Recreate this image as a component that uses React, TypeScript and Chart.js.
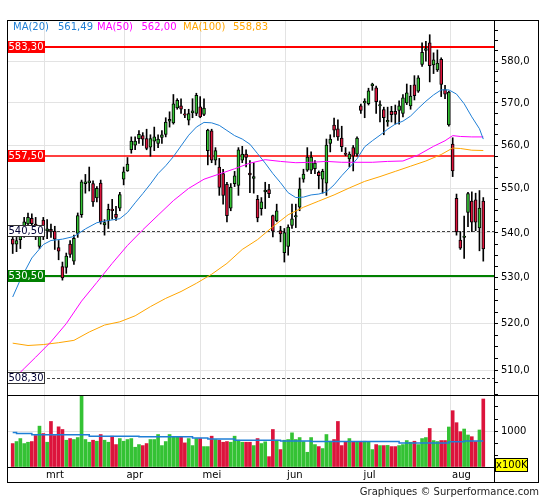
import React, { useEffect, useRef } from 'react';
import { Chart, registerables } from 'chart.js';

Chart.register(...registerables);

// ---------- data ----------
const openP = [
  538.6, 537.5, 538.5, 540.5, 542, 543.3, 542, 537, 542.9, 540.5,
  540.8, 540.4, 536.7, 532.5, 532.3, 537.5, 533.7, 539.9, 544.1, 551.2,
  551.4, 551.2, 547.9, 551.3, 541.8, 542.7, 545.4, 544.2, 545.6, 552.2,
  554.1, 559, 560.1, 561.6, 562.3, 561.6, 559.6, 561, 560.5, 561.9,
  562.6, 565.7, 565.3, 568.8, 569.3, 567.4, 565.9, 567.7, 567.5, 569.1,
  567.3, 558.8, 563.4, 556.6, 555, 553.5, 551, 545.6, 551.2, 550.8,
  556.6, 558, 553.6, 552.4, 547.6, 545.5, 549.3, 549.8, 543.9, 542.7,
  540.5, 535.6, 537, 541.7, 543.6, 545.8, 552.2, 554.3, 554.3, 554.6,
  553.8, 552.2, 551.3, 560.5, 564.8, 563.9, 561.7, 558.2, 556.9, 559.5,
  558, 569.3, 570, 569.8, 574.1, 573.6, 569.3, 568.4, 565.5, 568,
  568, 568.2, 567.5, 570, 569.3, 574.3, 572.8, 579.2, 582.6, 584.4,
  579.1, 577.9, 580.4, 573.2, 564.8, 560.3, 547.8, 538.4, 539, 544.6,
  547.2, 547.5, 541.1, 547.2,
];
const highP = [
  540, 539, 541.5, 543.5, 544.5, 544.3, 543.5, 541.5, 543.5, 543,
  542, 541.5, 538.3, 533.5, 535.5, 538.3, 539.5, 544.5, 552, 553.3,
  555, 551.8, 550.5, 552, 543, 546.5, 547.6, 546, 549.2, 555,
  557.2, 562, 562, 563.5, 563, 563.8, 562.5, 564.3, 562.5, 563.5,
  566.5, 567.9, 572, 571, 571, 568.5, 568.5, 571, 572.3, 571.5,
  571, 563.8, 563.8, 559.5, 557, 554.5, 551.5, 551.2, 554, 559.5,
  559.8, 559, 556.5, 556, 548.5, 548, 551.5, 551, 544, 546.5,
  541.5, 541, 541.8, 546.5, 546.5, 552.5, 554.5, 559.5, 558.5, 556.5,
  554.1, 554.5, 561.5, 562.5, 566.4, 566, 564.5, 559.5, 558.5, 560,
  562, 569.7, 571, 573.5, 574.7, 574, 570.5, 569, 569, 569.2,
  569.5, 570.5, 572, 574.5, 574.2, 576.5, 576.5, 584.4, 584.8, 586.4,
  582, 582.7, 580.8, 574.2, 572.8, 561.8, 548.8, 540.3, 543.8, 549.2,
  549.3, 549, 549.6, 548,
];
const lowP = [
  535.4, 535.8, 536.5, 539, 540, 541, 538.5, 536.5, 538.5, 538.7,
  539, 536.3, 534, 529.5, 531, 534.5, 533, 539, 543.5, 549,
  549.5, 546, 547, 542, 539.5, 541, 543.1, 542.8, 545, 550.9,
  554, 558.2, 559, 560.5, 560, 559, 557.5, 558.8, 559.5, 560.5,
  562, 564.3, 565, 568.5, 567.5, 566.5, 564.8, 566.5, 567, 566.5,
  567, 555.5, 556, 555.5, 548.5, 546.5, 542.5, 545, 550.5, 548.5,
  556, 555, 549.1, 549, 542.5, 544, 545.5, 548, 539.1, 542.5,
  538, 533.5, 535, 541, 541.2, 545, 551.5, 554, 553.5, 553.5,
  550, 549, 548.5, 558.5, 562, 561.2, 558.6, 557.6, 555, 554.1,
  557.5, 567.5, 566.5, 569.5, 573, 567.5, 565.5, 562.5, 564.5, 565.5,
  565, 565, 566.7, 569.6, 568.5, 570.7, 572.5, 578.7, 580, 575,
  577, 577.5, 571.5, 571, 564.5, 552.8, 539.5, 536.3, 534.3, 541.4,
  540.3, 540.5, 536, 533.7,
];
const closeP = [
  537.5, 538.3, 540.5, 542.5, 543.5, 542.1, 541, 540.7, 539.2, 540.9,
  540.4, 538.6, 535.9, 530, 534.8, 535.2, 538.8, 543.9, 551.6, 551.6,
  551.8, 547, 550.1, 542.5, 542.3, 545.3, 545, 543.5, 548.7, 553.9,
  555.7, 561, 561, 562.6, 561.5, 559.3, 561.6, 562, 561.5, 562.5,
  565.5, 566.1, 569.8, 570.6, 568.5, 567.1, 567.5, 568.1, 571.8, 566.7,
  568.8, 563.6, 556.6, 558.8, 550.3, 548.5, 543.9, 550.4, 553, 559,
  558, 557.2, 553.2, 552.8, 543.4, 547, 549.7, 548.9, 540.4, 545,
  539.8, 540.1, 541.3, 543.2, 543.9, 550, 553.4, 557.3, 557.3, 555.9,
  553, 554, 560.1, 561.5, 563.6, 562, 559.7, 557.9, 558, 557.5,
  561.7, 568.2, 570.4, 572.9, 574.5, 570.3, 569.6, 566.5, 565.9, 567.2,
  567.3, 569.3, 571.2, 572.4, 571.6, 571.7, 576, 582.1, 583, 578.9,
  580.3, 579.5, 574.4, 572.1, 572.6, 554.1, 540.2, 536.6, 539.3, 548.9,
  542.4, 542.4, 545.6, 536.4,
];
// volume in units of 100K
const volume = [
  651, 707, 790, 651, 688, 707, 874, 1135, 930, 688,
  1265, 874, 1116, 1042, 744, 790, 763, 818, 2000, 763,
  688, 744, 716, 902, 744, 688, 856, 623, 790, 716,
  763, 790, 549, 623, 595, 651, 763, 763, 902, 595,
  707, 902, 837, 837, 837, 670, 790, 595, 790, 790,
  567, 567, 856, 763, 744, 688, 707, 688, 856, 744,
  688, 688, 688, 595, 790, 651, 700, 288, 1042, 744,
  484, 744, 763, 949, 763, 818, 707, 409, 818, 623,
  567, 512, 902, 716, 763, 1265, 595, 707, 790, 707,
  688, 688, 716, 688, 484, 623, 595, 595, 600, 567,
  567, 595, 623, 735, 688, 716, 623, 790, 818, 1070,
  735, 707, 735, 735, 1111, 1564, 1231, 981, 1055, 889,
  842, 703, 1028, 1889,
];
// moving averages read at sample candles: [candle index, value]
const ma20 = [
  [0, 525.8], [2, 529.6], [5, 534.4], [8, 537.4], [10, 538.3], [13, 538.6], [16, 539.2],
  [19, 540.9], [22, 542.3], [25, 542.8], [28, 543.2], [30, 544.6], [32, 546.8], [34, 548.9],
  [36, 551.1], [38, 553.5], [40, 555.3], [42, 557.4], [44, 559.9], [46, 562.4], [48, 564.3],
  [50, 565.4], [52, 565.3], [54, 564.7], [56, 563.5], [58, 562.3], [60, 561.5], [62, 560.3],
  [64, 558.1], [66, 555.9], [68, 553.5], [70, 551.4], [72, 549.1], [74, 548.0], [76, 548.1],
  [78, 548.6], [80, 548.8], [82, 549.3], [84, 550.9], [86, 553.0], [88, 554.9], [90, 556.9],
  [92, 559.7], [94, 561.1], [96, 562.4], [98, 563.8], [100, 565.0], [102, 565.7], [104, 566.9],
  [106, 568.7], [108, 570.4], [110, 571.9], [112, 573.1], [114, 573.1], [116, 572.1],
  [118, 569.8], [120, 566.7], [122, 563.9], [123, 561.49],
];
const ma50 = [
  [0, 508.0], [3, 510.4], [6, 512.8], [10, 516.1], [14, 520.0], [18, 524.9], [22, 529.0],
  [26, 533.2], [30, 537.2], [34, 540.7], [38, 544.0], [42, 547.3], [46, 550.1], [50, 552.2],
  [54, 553.4], [58, 554.6], [62, 555.9], [66, 556.7], [70, 556.3], [74, 556.0], [78, 556.1],
  [82, 556.3], [86, 556.1], [90, 556.1], [94, 556.1], [98, 556.3], [102, 556.4], [106, 557.8],
  [110, 559.8], [113, 561.1], [115, 562.3], [117, 562.1], [120, 562.0], [123, 562.0],
];
const ma100 = [
  [0, 515.8], [4, 515.3], [8, 515.5], [12, 515.9], [16, 516.4], [20, 518.2], [24, 519.7],
  [28, 520.4], [32, 521.7], [36, 523.7], [40, 525.5], [44, 527.0], [48, 528.8], [52, 530.8],
  [56, 533.2], [60, 536.3], [64, 538.5], [68, 541.4], [72, 544.1], [76, 545.8], [80, 547.2],
  [84, 548.6], [88, 550.2], [92, 551.7], [96, 552.8], [100, 554.0], [104, 555.2], [108, 556.4],
  [112, 557.9], [115, 559.4], [117, 559.3], [120, 558.9], [123, 558.83],
];
// volume average (step changes): [candle index, value]
const volMA = [
  [0, 960], [1, 930], [5, 893], [20, 856], [33, 837], [47, 809], [51, 781], [58, 744],
  [70, 725], [78, 707], [101, 670], [114, 700], [118, 722], [123, 722],
];
const monthTicks = [8.2, 29.2, 49.1, 71.2, 91.2, 114.3];
const monthLabels = ['mrt', 'apr', 'mei', 'jun', 'jul', 'aug'];
const priceTicks = Array.from({ length: 34 }, (_, k) => 505 + k * 2.5);
const volTicks = [0, 2000 / 6, 4000 / 6, 1000, 8000 / 6, 10000 / 6, 2000];
const resistanceLevels = [583.3, 557.5];
const supportLevels = [530.5];
const markerLevels = [540.5, 508.3];

// ---------- styles ----------
const X_MIN = -1.49;
const X_MAX = 125.8;
const FAMILY = '"DejaVu Sans", Verdana, sans-serif';
const FONT = '10px ' + FAMILY;
const GRID = '#e3e3e3';
const BLUE = '#1f7fd6';
const MAGENTA = '#ff00ff';
const ORANGE = '#ffa500';
const UP = '#34c234';
const DOWN = '#dc143c';
const resistanceWidths = [2, 1.5];

const fmt = (v: number, d: number) => v.toFixed(d).replace('.', ',');
const isUp = (i: number) => closeP[i] >= openP[i];
const pts = (arr: number[][]) => arr.map(([x, y]) => ({ x, y }));
const last = (arr: number[][]) => arr[arr.length - 1][1];

const levelPlugin = {
  id: 'levels',
  beforeDatasetsDraw(chart: any) {
    const { ctx, chartArea: a } = chart;
    const y = chart.scales.y;
    ctx.save();
    const line = (v: number, color: string, w: number, dash: number[]) => {
      const py = Math.round(y.getPixelForValue(v)) + (w % 2 === 1 ? 0.5 : 0);
      ctx.beginPath();
      ctx.setLineDash(dash);
      ctx.strokeStyle = color;
      ctx.lineWidth = w;
      ctx.moveTo(a.left, py);
      ctx.lineTo(a.right, py);
      ctx.stroke();
    };
    resistanceLevels.forEach((v, i) => line(v, '#ff0000', resistanceWidths[i] || 1.5, []));
    supportLevels.forEach((v) => line(v, '#008000', 2, []));
    markerLevels.forEach((v) => line(v, '#444444', 1, [3, 2]));
    ctx.restore();
  },
  afterDatasetsDraw(chart: any) {
    const { ctx, chartArea: a } = chart;
    const y = chart.scales.y;
    ctx.save();
    ctx.setLineDash([]);
    ctx.font = FONT;
    const box = (v: number, bg: string, fg: string, border: string | null) => {
      const py = y.getPixelForValue(v);
      const text = fmt(v, 2);
      const w = Math.ceil(ctx.measureText(text).width) + 3;
      const h = 12;
      const bx = a.left;
      const by = Math.round(py - h / 2);
      ctx.fillStyle = bg;
      ctx.fillRect(bx, by, w, h);
      if (border) {
        ctx.strokeStyle = border;
        ctx.lineWidth = 1;
        ctx.strokeRect(bx + 0.5, by + 0.5, w - 1, h - 1);
      }
      ctx.fillStyle = fg;
      ctx.textAlign = 'left';
      ctx.textBaseline = 'middle';
      ctx.fillText(text, bx + 1.5, by + h / 2 + 0.5);
    };
    resistanceLevels.forEach((v) => box(v, '#ff0000', '#ffffff', null));
    supportLevels.forEach((v) => box(v, '#008000', '#ffffff', null));
    markerLevels.forEach((v) => box(v, '#ffffff', '#000033', '#333333'));
    ctx.restore();
  },
};

function priceConfig(): any {
  const idx = openP.map((_, i) => i);
  return {
    type: 'bar',
    data: {
      datasets: [
        { type: 'line', data: pts(ma20), borderColor: BLUE, borderWidth: 1, pointRadius: 0, order: 0 },
        { type: 'line', data: pts(ma50), borderColor: MAGENTA, borderWidth: 1, pointRadius: 0, order: 0 },
        { type: 'line', data: pts(ma100), borderColor: ORANGE, borderWidth: 1, pointRadius: 0, order: 0 },
        {
          type: 'bar',
          data: idx.map((i) => ({ x: i, y: [openP[i], closeP[i]] })),
          backgroundColor: idx.map((i) => (isUp(i) ? UP : DOWN)),
          borderColor: '#000000',
          borderWidth: 1,
          borderSkipped: false,
          barThickness: 3,
          grouped: false,
          order: 1,
        },
        {
          type: 'bar',
          data: idx.map((i) => ({ x: i, y: [lowP[i], highP[i]] })),
          backgroundColor: '#000000',
          borderWidth: 0,
          barThickness: 1,
          grouped: false,
          order: 2,
        },
      ],
    },
    options: {
      responsive: false,
      animation: false,
      events: [],
      layout: { padding: 0 },
      plugins: { legend: { display: false }, tooltip: { enabled: false } },
      scales: {
        x: {
          type: 'linear',
          min: X_MIN,
          max: X_MAX,
          offset: false,
          bounds: 'data',
          afterBuildTicks: (s: any) => { s.ticks = monthTicks.map((v) => ({ value: v })); },
          afterFit: (s: any) => { s.height = 0; s.paddingLeft = 0; s.paddingRight = 0; },
          ticks: { display: false },
          grid: { color: GRID, drawTicks: false, offset: false },
          border: { display: false },
        },
        y: {
          type: 'logarithmic',
          position: 'right',
          min: 504.8,
          max: 590,
          bounds: 'data',
          afterBuildTicks: (s: any) => { s.ticks = priceTicks.map((v) => ({ value: v })); },
          afterFit: (s: any) => { s.width = 44; s.paddingTop = 0; s.paddingBottom = 0; },
          ticks: {
            autoSkip: false,
            padding: 3,
            color: '#000000',
            font: { family: FAMILY, size: 10 },
            callback: (v: number) => (Math.abs(v % 10) < 1e-6 ? fmt(v, 1) : ''),
          },
          grid: {
            color: (c: any) => (c.tick && Math.abs(c.tick.value % 10) < 1e-6 ? GRID : 'rgba(0,0,0,0)'),
            tickColor: '#000000',
            tickLength: 4,
            drawTicks: true,
          },
          border: { display: false },
        },
      },
    },
    plugins: [levelPlugin],
  };
}

function volumeConfig(): any {
  const idx = volume.map((_, i) => i);
  return {
    type: 'bar',
    data: {
      datasets: [
        { type: 'line', data: pts(volMA), stepped: true, borderColor: BLUE, borderWidth: 1.5, pointRadius: 0, order: 0 },
        {
          type: 'bar',
          data: idx.map((i) => ({ x: i, y: volume[i] })),
          backgroundColor: idx.map((i) => (isUp(i) ? UP : DOWN)),
          borderWidth: 0,
          barThickness: 3,
          grouped: false,
          order: 1,
        },
      ],
    },
    options: {
      responsive: false,
      animation: false,
      events: [],
      layout: { padding: 0 },
      plugins: { legend: { display: false }, tooltip: { enabled: false } },
      scales: {
        x: {
          type: 'linear',
          min: X_MIN,
          max: X_MAX,
          offset: false,
          bounds: 'data',
          afterBuildTicks: (s: any) => { s.ticks = monthTicks.map((v) => ({ value: v })); },
          afterFit: (s: any) => { s.height = 15; s.paddingLeft = 0; s.paddingRight = 0; },
          ticks: {
            autoSkip: false,
            maxRotation: 0,
            minRotation: 0,
            align: 'start',
            labelOffset: 2,
            padding: 2,
            color: '#000000',
            font: { family: FAMILY, size: 10 },
            callback: (_v: number, i: number) => monthLabels[i],
          },
          grid: { color: GRID, drawTicks: false, offset: false },
          border: { display: false },
        },
        y: {
          type: 'linear',
          position: 'right',
          min: 0,
          max: 2000,
          bounds: 'data',
          afterBuildTicks: (s: any) => { s.ticks = volTicks.map((v) => ({ value: v })); },
          afterFit: (s: any) => { s.width = 44; s.paddingTop = 0; s.paddingBottom = 0; },
          ticks: {
            autoSkip: false,
            padding: 3,
            color: '#000000',
            font: { family: FAMILY, size: 10 },
            callback: (v: number) => (Math.abs(v - 1000) < 1e-6 ? '1000' : ''),
          },
          grid: {
            color: (c: any) => (c.tick && Math.abs(c.tick.value - 1000) < 1e-6 ? GRID : 'rgba(0,0,0,0)'),
            tickColor: '#000000',
            tickLength: 4,
            drawTicks: true,
          },
          border: { display: false },
        },
      },
    },
  };
}

const abs = (left: number, top: number, extra: React.CSSProperties = {}): React.CSSProperties => ({
  position: 'absolute',
  left,
  top,
  ...extra,
});

export default function App() {
  const priceRef = useRef<HTMLCanvasElement>(null);
  const volRef = useRef<HTMLCanvasElement>(null);

  useEffect(() => {
    const pc = new Chart(priceRef.current as HTMLCanvasElement, priceConfig());
    const vc = new Chart(volRef.current as HTMLCanvasElement, volumeConfig());
    return () => {
      pc.destroy();
      vc.destroy();
    };
  }, []);

  const txt: React.CSSProperties = { font: FONT, lineHeight: '12px', whiteSpace: 'nowrap' };
  const legend = [
    { x: 13, t: 'MA(20)', c: BLUE },
    { x: 58, t: fmt(last(ma20), 2), c: BLUE },
    { x: 97, t: 'MA(50)', c: MAGENTA },
    { x: 141.5, t: fmt(last(ma50), 2), c: MAGENTA },
    { x: 183, t: 'MA(100)', c: ORANGE },
    { x: 233, t: fmt(last(ma100), 2), c: ORANGE },
  ];

  return (
    <div style={{ position: 'absolute', left: 0, top: 0, width: 545, height: 500, background: '#ffffff', overflow: 'hidden' }}>
      <canvas ref={priceRef} width={531} height={375} style={abs(7, 20, { width: 531, height: 375 })} />
      <canvas ref={volRef} width={531} height={87} style={abs(7, 395, { width: 531, height: 87 })} />
      {/* frame and panel separators */}
      <div style={abs(7, 20, { width: 532, height: 463, border: '1px solid #000', boxSizing: 'border-box' })} />
      <div style={abs(7, 395, { width: 532, height: 1, background: '#000' })} />
      <div style={abs(7, 467, { width: 488, height: 1, background: '#000' })} />
      <div style={abs(494, 20, { width: 1, height: 463, background: '#000' })} />
      {legend.map((l) => (
        <span key={l.t + l.x} style={abs(l.x, 21, { ...txt, color: l.c })}>{l.t}</span>
      ))}
      <div
        style={abs(495, 458, {
          ...txt,
          width: 33,
          height: 14,
          background: '#ffff00',
          border: '1px solid #000',
          boxSizing: 'border-box',
          textAlign: 'center',
          color: '#000',
        })}
      >
        x100K
      </div>
      <div style={abs(0, 486, { ...txt, width: 539, textAlign: 'right', color: '#222' })}>
        Graphiques © Surperformance.com
      </div>
    </div>
  );
}
